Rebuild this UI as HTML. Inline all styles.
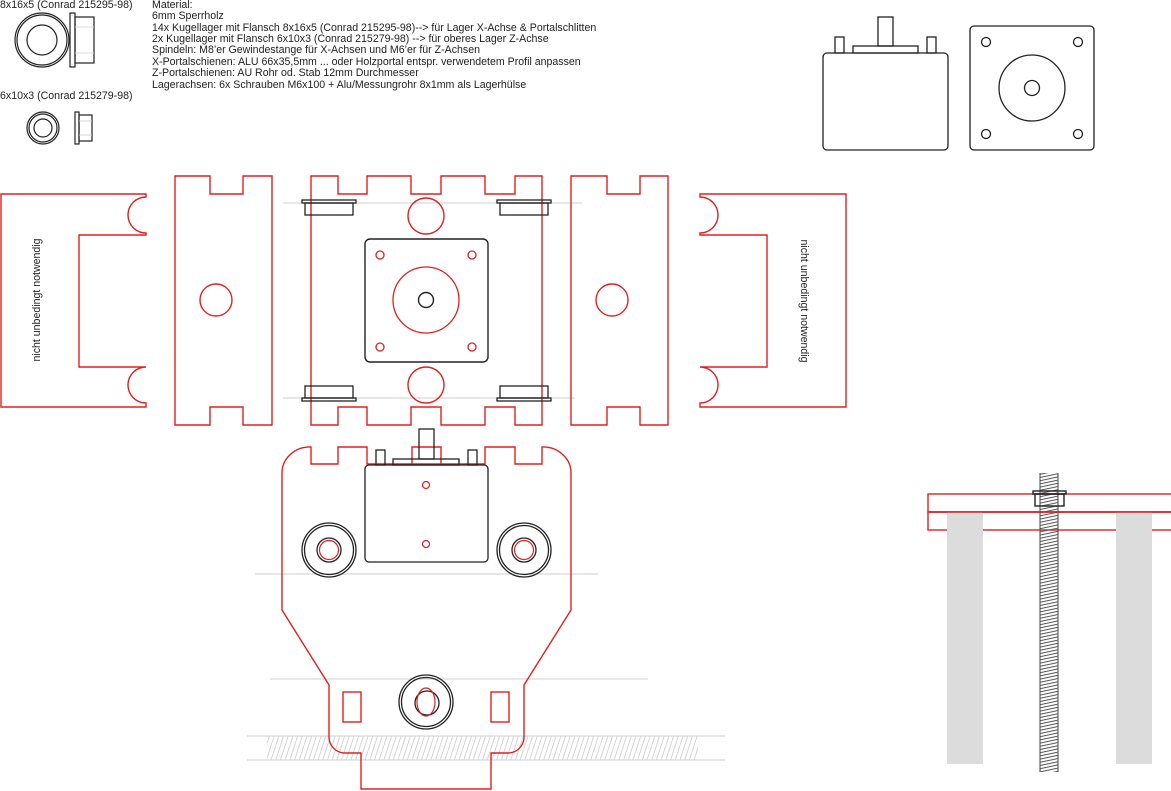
<!DOCTYPE html>
<html><head><meta charset="utf-8"><style>
html,body{margin:0;padding:0;background:#fff;}
svg{display:block;}
text{font-family:"Liberation Sans",Arial,sans-serif;font-size:10.6px;fill:#222;}
</style></head><body>
<svg width="1171" height="791" viewBox="0 0 1171 791" xmlns="http://www.w3.org/2000/svg">
<defs>
<pattern id="hatch" width="4.7" height="24" patternUnits="userSpaceOnUse" patternTransform="skewX(-18)">
<line x1="1" y1="0" x2="1" y2="24" stroke="#c8c8c8" stroke-width="0.8"/>
</pattern>
<pattern id="thread" width="18" height="3.2" patternUnits="userSpaceOnUse" patternTransform="skewY(-12)">
<line x1="0" y1="1" x2="18" y2="1" stroke="#555" stroke-width="1"/>
</pattern>
</defs>

<text x="0" y="8">8x16x5 (Conrad 215295-98)</text>
<text x="0" y="99">6x10x3 (Conrad 215279-98)</text>
<g>
<text x="152" y="8">Material:</text>
<text x="152" y="19">6mm Sperrholz</text>
<text x="152" y="31">14x  Kugellager mit Flansch 8x16x5 (Conrad 215295-98)--&gt; für Lager X-Achse &amp; Portalschlitten</text>
<text x="152" y="42">2x Kugellager mit Flansch 6x10x3 (Conrad 215279-98) --&gt; für oberes Lager Z-Achse</text>
<text x="152" y="53">Spindeln: M8’er Gewindestange für X-Achsen und M6’er für Z-Achsen</text>
<text x="152" y="65">X-Portalschienen: ALU 66x35,5mm ... oder Holzportal entspr. verwendetem Profil anpassen</text>
<text x="152" y="76">Z-Portalschienen: AU Rohr od. Stab 12mm Durchmesser</text>
<text x="152" y="88">Lagerachsen: 6x Schrauben M6x100 + Alu/Messungrohr 8x1mm als Lagerhülse</text>
</g>

<g fill="none" stroke="#222" stroke-width="1.2">
<circle cx="42" cy="40" r="27"/><circle cx="42" cy="40" r="25"/><circle cx="42" cy="40" r="15"/>
<rect x="70" y="13" width="5" height="54"/><rect x="75" y="17" width="19" height="46"/>
<circle cx="43" cy="128" r="16"/><circle cx="43" cy="128" r="14"/><circle cx="43" cy="128" r="9"/>
<rect x="75" y="112" width="4" height="32"/><rect x="79" y="115" width="13" height="26"/>
</g>
<g stroke="#ccc" stroke-width="0.8"><line x1="75" y1="27" x2="94" y2="27"/><line x1="75" y1="53" x2="94" y2="53"/><line x1="79" y1="121" x2="92" y2="121"/><line x1="79" y1="135" x2="92" y2="135"/></g>

<g fill="none" stroke="#222" stroke-width="1.3">
<rect x="823" y="53" width="125" height="97" rx="4"/>
<rect x="853" y="46" width="65" height="7"/>
<rect x="878" y="17" width="15" height="29"/>
<rect x="835" y="37" width="9" height="16"/>
<rect x="927" y="37" width="9" height="16"/>
<rect x="970" y="26" width="124" height="124" rx="4"/>
<circle cx="986" cy="42" r="4.5"/><circle cx="1078" cy="42" r="4.5"/>
<circle cx="986" cy="134" r="4.5"/><circle cx="1078" cy="134" r="4.5"/>
<circle cx="1032" cy="88" r="33"/><circle cx="1032" cy="88" r="7.5"/>
</g>

<g stroke="#cfcfcf" stroke-width="1">
<line x1="283" y1="203" x2="582" y2="203"/>
<line x1="283" y1="398" x2="575" y2="398"/>
<line x1="255" y1="574" x2="598" y2="574"/>
<line x1="270" y1="679" x2="648" y2="679"/>
<line x1="247" y1="736" x2="725" y2="736"/>
<line x1="247" y1="760" x2="725" y2="760"/>
</g>
<rect x="267" y="736.5" width="431" height="23" fill="url(#hatch)"/>

<g fill="none" stroke="#e02020" stroke-width="1.4">
<path d="M146,194 L1,194 L1,407 L146,407 L146,403 A18,18 0 0 1 146,367 L79,367 L79,235 L146,235 L146,233 A18,18 0 0 1 146,197 Z"/>
<path d="M700,194 L846,194 L846,407 L700,407 L700,403 A18,18 0 0 0 700,367 L767,367 L767,235 L700,235 L700,233 A18,18 0 0 0 700,197 Z"/>
<path d="M175,176 L210,176 L210,194 L243,194 L243,176 L272,176 L272,425 L243,425 L243,407 L210,407 L210,425 L175,425 Z"/>
<circle cx="216" cy="300" r="16"/>
<path d="M571,176 L607,176 L607,194 L640,194 L640,176 L668,176 L668,425 L640,425 L640,407 L607,407 L607,425 L571,425 Z"/>
<circle cx="612" cy="300" r="16"/>
<path d="M311,176 L338,176 L338,194 L367,194 L367,176 L411,176 L411,194 L441,194 L441,176 L485,176 L485,194 L515,194 L515,176 L542,176 L542,425 L515,425 L515,407 L485,407 L485,425 L441,425 L441,407 L411,407 L411,425 L367,425 L367,407 L338,407 L338,425 L311,425 Z"/>
<circle cx="426" cy="216" r="18"/><circle cx="426" cy="385" r="18"/>
<path d="M311,447 L311,464 L338,464 L338,447 L367,447 L367,464 L485,464 L485,447 L515,447 L515,464 L542,464 L542,447 A28,26 0 0 1 571,473 L571,610 L524,685 L524,737 A16,16 0 0 1 508,753 L491,753 L491,789 L361,789 L361,753 L345,753 A16,16 0 0 1 329,737 L329,685 L282,610 L282,473 A28,26 0 0 1 311,447 Z"/>
<path d="M412,464 L412,447 L441,447 L441,464"/>
<rect x="343" y="692" width="18" height="30"/>
<rect x="491" y="692" width="18" height="30"/>
<rect x="928" y="494" width="245" height="18"/>
<rect x="928" y="512" width="245" height="18"/>
</g>

<g fill="none" stroke="#222" stroke-width="1.4">
<rect x="365" y="239" width="123" height="123" rx="5"/>
<circle cx="426" cy="300" r="7.5"/>
</g>
<g fill="none" stroke="#e02020" stroke-width="1.3">
<circle cx="380" cy="255" r="4"/><circle cx="472" cy="255" r="4"/>
<circle cx="380" cy="347" r="4"/><circle cx="472" cy="347" r="4"/>
<circle cx="426" cy="300" r="33"/>
</g>

<g fill="none" stroke="#222" stroke-width="1.3">
<rect x="302" y="200" width="54" height="3"/><rect x="305" y="203" width="48" height="12"/>
<rect x="497" y="200" width="54" height="3"/><rect x="500" y="203" width="48" height="12"/>
<rect x="305" y="386" width="48" height="12"/><rect x="302" y="398" width="54" height="3"/>
<rect x="500" y="386" width="48" height="12"/><rect x="497" y="398" width="54" height="3"/>
</g>

<g fill="#fff" stroke="#222" stroke-width="1.3">
<rect x="365" y="465" width="123" height="97" rx="4"/>
<rect x="393" y="459" width="66" height="6" fill="none"/>
<rect x="419" y="429" width="15" height="30" fill="none"/>
<rect x="376" y="450" width="9" height="15" fill="none"/>
<rect x="468" y="450" width="9" height="15" fill="none"/>
</g>
<g fill="none" stroke="#e02020" stroke-width="1.2">
<circle cx="426" cy="485" r="3.5"/><circle cx="426" cy="544" r="3.5"/>
</g>
<g fill="none" stroke="#222" stroke-width="1.3">
<circle cx="329" cy="550" r="27"/><circle cx="329" cy="550" r="24.5"/><circle cx="329" cy="550" r="12"/>
<circle cx="524" cy="550" r="27"/><circle cx="524" cy="550" r="24.5"/><circle cx="524" cy="550" r="12"/>
<circle cx="426" cy="702" r="27"/><circle cx="426" cy="702" r="24.5"/><circle cx="427" cy="703" r="12"/>
</g>
<g fill="none" stroke="#e02020" stroke-width="1.2">
<circle cx="329" cy="550" r="9.5"/><circle cx="524" cy="550" r="9.5"/>
<ellipse cx="426" cy="702" rx="9" ry="14"/>
</g>

<rect x="947" y="512" width="36" height="252" fill="#dcdcdc"/>
<rect x="1116" y="512" width="36" height="252" fill="#dcdcdc"/>
<rect x="1040" y="473" width="18" height="299" fill="url(#thread)"/>
<g fill="none" stroke="#444" stroke-width="1">
<line x1="1040" y1="473" x2="1040" y2="772"/><line x1="1058" y1="473" x2="1058" y2="772"/>
</g>
<g fill="none" stroke="#222" stroke-width="1.4">
<rect x="1033" y="491" width="33" height="3"/>
<rect x="1035" y="494" width="29" height="12"/>
</g>
<g fill="none" stroke="#e02020" stroke-width="1.4">
<line x1="928" y1="512" x2="1173" y2="512"/>
</g>

<text transform="translate(40,300) rotate(-90)" text-anchor="middle">nicht unbedingt notwendig</text>
<text transform="translate(801,301) rotate(90)" text-anchor="middle">nicht unbedingt notwendig</text>
</svg>
</body></html>
